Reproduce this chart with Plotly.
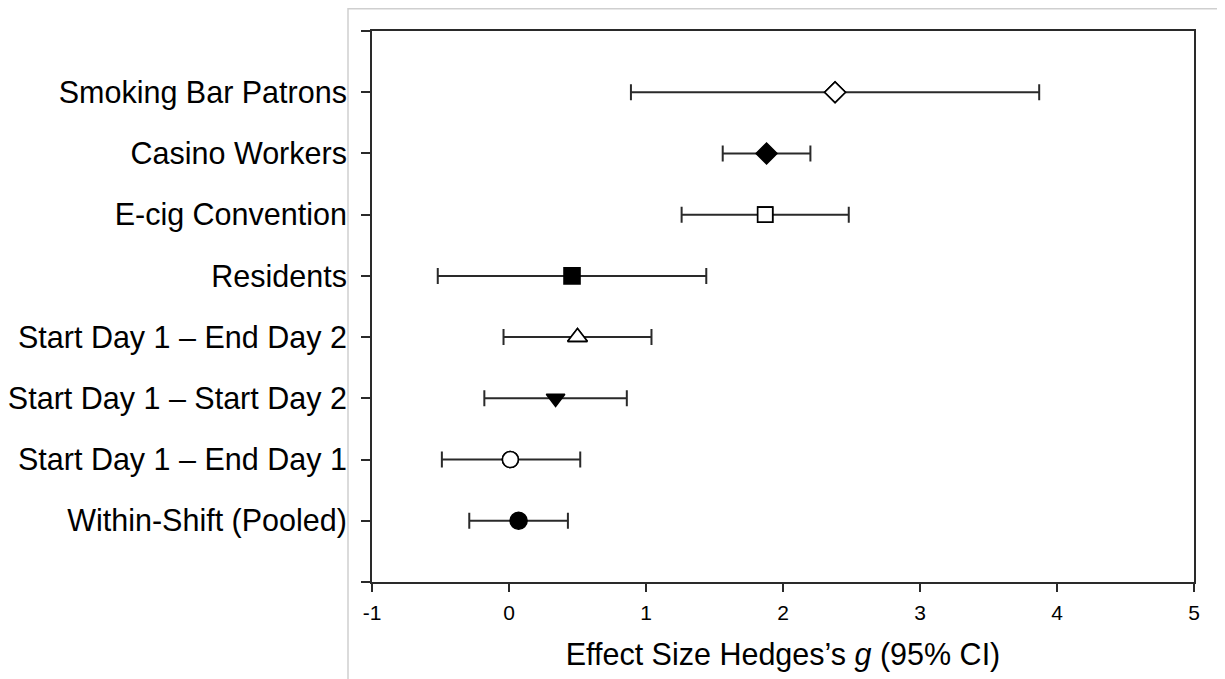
import plotly.graph_objects as go

categories = [
    "Smoking Bar Patrons",
    "Casino Workers",
    "E-cig Convention",
    "Residents",
    "Start Day 1 \u2013 End Day 2",
    "Start Day 1 \u2013 Start Day 2",
    "Start Day 1 \u2013 End Day 1",
    "Within-Shift (Pooled)",
]
effect = [2.38, 1.88, 1.87, 0.46, 0.50, 0.34, 0.01, 0.07]
ci_low = [0.89, 1.56, 1.26, -0.52, -0.04, -0.18, -0.49, -0.29]
ci_high = [3.87, 2.20, 2.48, 1.44, 1.04, 0.86, 0.52, 0.43]

symbols = ["diamond-open", "diamond", "square-open", "square",
           "triangle-up-open", "triangle-down", "circle-open", "circle"]
sizes = [16, 16, 15, 16, 17, 16, 16, 17]

x_tickvals = [-1, 0, 1, 2, 3, 4, 5]
x_ticktext = ["-1", "0", "1", "2", "3", "4", "5"]

n = len(categories)
ypos = list(range(n, 0, -1))

fig = go.Figure()
fig.add_trace(go.Scatter(
    x=effect,
    y=ypos,
    mode="markers",
    marker=dict(symbol=symbols, size=sizes, color="black", opacity=1,
                line=dict(color="black", width=1.6)),
    error_x=dict(type="data", symmetric=False,
                 array=[h - e for h, e in zip(ci_high, effect)],
                 arrayminus=[e - l for e, l in zip(effect, ci_low)],
                 color="#2a2a2a", thickness=2, width=8),
    showlegend=False,
    hoverinfo="x+y",
))
# white fill behind open markers
fig.add_trace(go.Scatter(
    x=[e for e, s in zip(effect, symbols) if s.endswith("-open")],
    y=[y for y, s in zip(ypos, symbols) if s.endswith("-open")],
    mode="markers",
    marker=dict(symbol=[s.replace("-open", "") for s in symbols if s.endswith("-open")],
                size=[sz for sz, s in zip(sizes, symbols) if s.endswith("-open")],
                color="white", opacity=1, line=dict(color="black", width=1.6)),
    showlegend=False, hoverinfo="skip",
))

font_family = "Liberation Sans, Arial, sans-serif"

# the page puts the figure 8px in from the top-left corner
ML, MR, MT, MB = 364, 39, 23, 105
W, H = 1225, 679

fig.update_layout(
    width=W, height=H,
    margin=dict(l=ML, r=MR, t=MT, b=MB, autoexpand=False),
    paper_bgcolor="white", plot_bgcolor="white",
    font=dict(family=font_family, color="black"),
    xaxis=dict(
        range=[-1, 5], tickvals=x_tickvals, ticktext=x_ticktext,
        ticks="outside", ticklen=8, tickwidth=2, tickcolor="#2a2a2a",
        showline=True, linewidth=2, linecolor="#2a2a2a", mirror=True,
        showgrid=False, zeroline=False, automargin=False,
        tickfont=dict(size=21, family=font_family),
        ticklabelstandoff=3,
        title=dict(text="Effect Size Hedges\u2019s <i>g</i> (95% CI)",
                   font=dict(size=30.5, family=font_family), standoff=20),
    ),
    yaxis=dict(
        range=[0, n + 1], tickvals=list(range(0, n + 2)),
        ticktext=[""] + categories[::-1] + [""],
        ticks="outside", ticklen=9, tickwidth=2, tickcolor="#2a2a2a",
        showline=True, linewidth=2, linecolor="#2a2a2a", mirror=True,
        showgrid=False, zeroline=False, automargin=False,
        tickfont=dict(size=30.5, family=font_family),
        ticklabelstandoff=8,
    ),
)

# light gray frame of the original image panel
pw = W - ML - MR
ph = H - MT - MB
x0 = (340 - ML) / pw
x1 = (1224 - ML) / pw
ytop = (H - MB - 0.75) / ph
ybot = (H - MB - 700) / ph
fig.add_shape(type="path", xref="paper", yref="paper",
              path=f"M {x0},{ybot} L {x0},{ytop} L {x1},{ytop}",
              line=dict(color="#cfcfcf", width=1.5), layer="below")

fig.write_html("out.html")
